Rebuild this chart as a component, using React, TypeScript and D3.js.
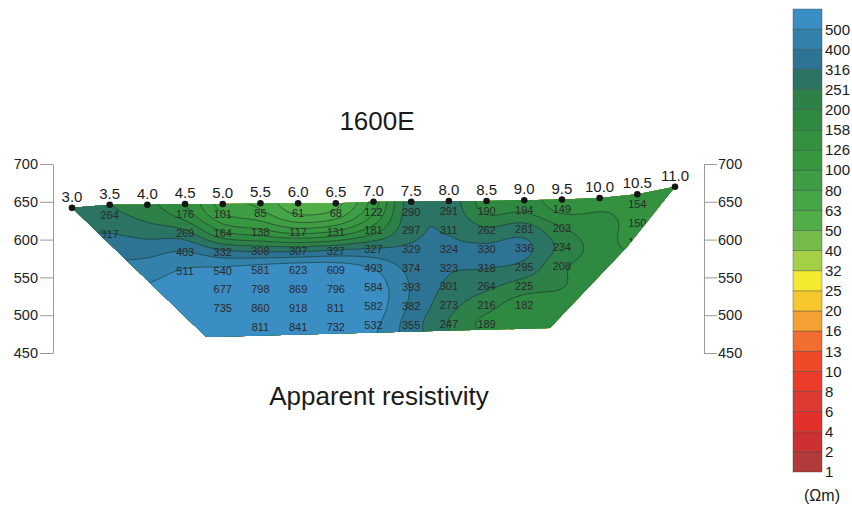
import React, { useEffect, useRef } from 'react';
import * as d3 from 'd3';

// stations along the line and the ground elevation at each
const STATIONS = [3.0, 3.5, 4.0, 4.5, 5.0, 5.5, 6.0, 6.5, 7.0, 7.5, 8.0, 8.5, 9.0, 9.5, 10.0, 10.5, 11.0];
const ELEVATIONS = [642, 646, 646, 647, 647, 648, 648, 648, 650, 650, 651, 651, 652, 653, 655, 660, 670];

// apparent resistivity per station, shallowest level first
const RHO: number[][] = [
  [],
  [264, 317],
  [],
  [176, 269, 403, 511],
  [101, 164, 332, 540, 677, 735],
  [85, 138, 308, 581, 798, 860, 811],
  [61, 117, 307, 623, 869, 918, 841],
  [68, 131, 327, 609, 796, 811, 732],
  [122, 181, 327, 493, 584, 582, 532],
  [290, 297, 329, 374, 393, 382, 355],
  [291, 311, 324, 323, 301, 273, 247],
  [190, 262, 330, 318, 264, 216, 189],
  [194, 281, 336, 295, 225, 182],
  [149, 203, 234, 208],
  [],
  [154, 150, 144],
  [],
];

// lower edge of the section (station, elevation), right to left
const LOWER_EDGE: [number, number][] = [[10.36, 590], [9.34, 483], [4.78, 471]];

const ELEV_TICKS = [450, 500, 550, 600, 650, 700];

const LEVELS = [1, 2, 4, 6, 8, 10, 13, 16, 20, 25, 32, 40, 50, 63, 80, 100, 126, 158, 200, 251, 316, 400, 500];
const COLORS = [
  '#b33a3a', '#cc3030', '#e3302b', '#dc3a32', '#ea3c28', '#ee4a2a', '#f26e30', '#f5a033',
  '#f7c72e', '#f4ea2f', '#a6cf48', '#74bb4a', '#50ad48', '#46a547', '#3f9e45', '#389842',
  '#339140', '#2f8a41', '#2d8048', '#2b7464', '#2d7494', '#3282ab', '#3a8ec4',
];

const FONT = "'Liberation Sans', Arial, sans-serif";

const App = () => {
  const svgRef = useRef<SVGSVGElement>(null);

  useEffect(() => {
    const svg = d3.select(svgRef.current);
    svg.selectAll('*').remove();

    const x = d3.scaleLinear().domain([3, 11]).range([72, 675]);
    const y = d3.scaleLinear().domain([450, 700]).range([353, 164]);
    const surface = d3.scaleLinear().domain(STATIONS).range(ELEVATIONS);

    // depth level n sits 13 m + 25 m per level below ground
    const levelElev = (st: number, n: number) => surface(st) - 13 - 25 * (n - 1);

    // value grid in log space (columns = stations, rows = levels 0..8)
    const nCol = STATIONS.length;
    const nRow = 9;
    const grid = new Float64Array(nCol * nRow);
    const known = new Uint8Array(nCol * nRow);
    let sum = 0, cnt = 0;
    RHO.forEach((vals, c) => {
      vals.forEach((v, i) => {
        const k = (i + 1) * nCol + c;
        grid[k] = Math.log10(v);
        known[k] = 1;
        sum += grid[k];
        cnt++;
      });
      // ground row: carry the trend of the two top readings a little upward
      if (vals.length >= 2) {
        const a = Math.log10(vals[0]), b = Math.log10(vals[1]);
        grid[c] = a - 0.35 * (b - a);
        known[c] = 1;
      }
    });
    for (let k = 0; k < grid.length; k++) if (!known[k]) grid[k] = sum / cnt;
    for (let it = 0; it < 1500; it++) {
      for (let r = 0; r < nRow; r++) {
        for (let c = 0; c < nCol; c++) {
          const k = r * nCol + c;
          if (known[k]) continue;
          let s = 0, m = 0;
          if (c > 0) { s += grid[k - 1]; m++; }
          if (c < nCol - 1) { s += grid[k + 1]; m++; }
          if (r > 0) { s += grid[k - nCol]; m++; }
          if (r < nRow - 1) { s += grid[k + nCol]; m++; }
          grid[k] = s / m;
        }
      }
    }

    const clamp = (v: number, a: number, b: number) => Math.max(a, Math.min(b, v));
    const at = (c: number, r: number) => grid[clamp(r, 0, nRow - 1) * nCol + clamp(c, 0, nCol - 1)];
    const cr = (p0: number, p1: number, p2: number, p3: number, t: number) =>
      0.5 * (2 * p1 + (-p0 + p2) * t + (2 * p0 - 5 * p1 + 4 * p2 - p3) * t * t + (-p0 + 3 * p1 - 3 * p2 + p3) * t * t * t);
    const sample = (cf: number, rf: number) => {
      cf = clamp(cf, 0, nCol - 1.0001);
      rf = clamp(rf, 0, nRow - 1.0001);
      const c = Math.floor(cf), r = Math.floor(rf);
      const tx = cf - c, ty = rf - r;
      const rows = [-1, 0, 1, 2].map(dr =>
        cr(at(c - 1, r + dr), at(c, r + dr), at(c + 1, r + dr), at(c + 2, r + dr), tx));
      return cr(rows[0], rows[1], rows[2], rows[3], ty);
    };

    // sample onto a pixel grid
    const cell = 2, x0 = 58, y0 = 178;
    const nx = 318, ny = 86;
    const values = new Float64Array(nx * ny);
    for (let j = 0; j < ny; j++) {
      const elev = y.invert(y0 + j * cell);
      for (let i = 0; i < nx; i++) {
        const st = x.invert(x0 + i * cell);
        const col = (st - 3) / 0.5;
        const n = 1 + (surface(st) - elev - 13) / 25;
        values[j * nx + i] = sample(col, n);
      }
    }

    const thresholds = LEVELS.map(Math.log10);
    const contours = d3.contours().size([nx, ny]).thresholds(thresholds)(Array.from(values));
    const path = d3.geoPath(d3.geoIdentity().scale(cell).translate([x0 - cell / 2, y0 - cell / 2]) as any);

    // section outline
    const outline: [number, number][] = [
      ...STATIONS.map((s, i) => [s, ELEVATIONS[i]] as [number, number]),
      ...LOWER_EDGE,
    ];
    const line = d3.line<[number, number]>().x(d => x(d[0])).y(d => y(d[1]));

    svg.append('defs').append('clipPath').attr('id', 'section-clip')
      .append('path').attr('d', line(outline) + 'Z');

    const sec = svg.append('g').attr('clip-path', 'url(#section-clip)');

    sec.selectAll('.band')
      .data(contours)
      .enter()
      .append('path')
      .attr('class', 'band')
      .attr('d', d => path(d as any))
      .attr('fill', (d, i) => COLORS[i]);

    const vmin = d3.min(values)!, vmax = d3.max(values)!;
    sec.selectAll('.iso')
      .data(contours.filter(d => d.value > vmin && d.value < vmax))
      .enter()
      .append('path')
      .attr('class', 'iso')
      .attr('d', d => path(d as any))
      .attr('fill', 'none')
      .attr('stroke', '#1e3328')
      .attr('stroke-opacity', 0.75)
      .attr('stroke-width', 0.8);

    // readings
    const readings = RHO.flatMap((vals, c) => vals.map((v, i) => ({ st: STATIONS[c], n: i + 1, v })));
    sec.selectAll('.val')
      .data(readings)
      .enter()
      .append('text')
      .attr('class', 'val')
      .attr('x', d => x(d.st))
      .attr('y', d => y(levelElev(d.st, d.n)))
      .attr('dy', '0.36em')
      .attr('text-anchor', 'middle')
      .style('font-family', FONT)
      .style('font-size', '11px')
      .style('fill', '#2a2a2a')
      .text(d => d.v);

    // stations
    const stG = svg.append('g');
    stG.selectAll('circle')
      .data(STATIONS)
      .enter()
      .append('circle')
      .attr('cx', d => x(d))
      .attr('cy', (d, i) => y(ELEVATIONS[i]))
      .attr('r', 3.3)
      .attr('fill', '#151515');
    stG.selectAll('text')
      .data(STATIONS)
      .enter()
      .append('text')
      .attr('x', d => x(d))
      .attr('y', (d, i) => y(ELEVATIONS[i]) - 6)
      .attr('text-anchor', 'middle')
      .style('font-family', FONT)
      .style('font-size', '15px')
      .style('fill', '#1a1a1a')
      .text(d => d.toFixed(1));

    // elevation axes
    const styleAxis = (g: any) => {
      g.select('.domain').attr('stroke', '#9a9a9a');
      g.selectAll('.tick line').attr('stroke', '#9a9a9a');
      g.selectAll('.tick text')
        .style('font-family', FONT)
        .style('font-size', '14.5px')
        .style('fill', '#222');
    };
    svg.append('g')
      .attr('transform', 'translate(53,0)')
      .call(d3.axisLeft(y).tickValues(ELEV_TICKS).tickSize(13).tickSizeOuter(0).tickPadding(2).tickFormat(d3.format('d')))
      .call(styleAxis);
    svg.append('g')
      .attr('transform', 'translate(704,0)')
      .call(d3.axisRight(y).tickValues(ELEV_TICKS).tickSize(13).tickSizeOuter(0).tickPadding(1).tickFormat(d3.format('d')))
      .call(styleAxis);

    // titles
    svg.append('text')
      .attr('x', 377).attr('y', 130)
      .attr('text-anchor', 'middle')
      .style('font-family', FONT).style('font-size', '26px').style('fill', '#1a1a1a')
      .text('1600E');
    svg.append('text')
      .attr('x', 379).attr('y', 405)
      .attr('text-anchor', 'middle')
      .style('font-family', FONT).style('font-size', '26px').style('fill', '#1a1a1a')
      .text('Apparent resistivity');

    // colour bar
    const cb = d3.scaleLinear().domain([0, LEVELS.length]).range([472, 9]);
    const cbG = svg.append('g');
    cbG.selectAll('rect')
      .data(COLORS)
      .enter()
      .append('rect')
      .attr('x', 793)
      .attr('width', 29)
      .attr('y', (d, i) => cb(i + 1))
      .attr('height', (d, i) => cb(i) - cb(i + 1))
      .attr('fill', d => d)
      .attr('stroke', '#3a3a3a')
      .attr('stroke-opacity', 0.45)
      .attr('stroke-width', 0.8);
    cbG.selectAll('text')
      .data(LEVELS)
      .enter()
      .append('text')
      .attr('x', 825)
      .attr('y', (d, i) => cb(i))
      .attr('dy', '0.36em')
      .style('font-family', FONT)
      .style('font-size', '15px')
      .style('fill', '#1a1a1a')
      .text(d => d);
    cbG.append('text')
      .attr('x', 822).attr('y', 495).attr('dy', '0.36em')
      .attr('text-anchor', 'middle')
      .style('font-family', FONT).style('font-size', '16px').style('fill', '#1a1a1a')
      .text('(Ωm)');
  }, []);

  return (
    <svg ref={svgRef} width={852} height={505}
      style={{ position: 'absolute', left: 0, top: 0, background: '#fff' }}>
    </svg>
  );
};

export default App;
